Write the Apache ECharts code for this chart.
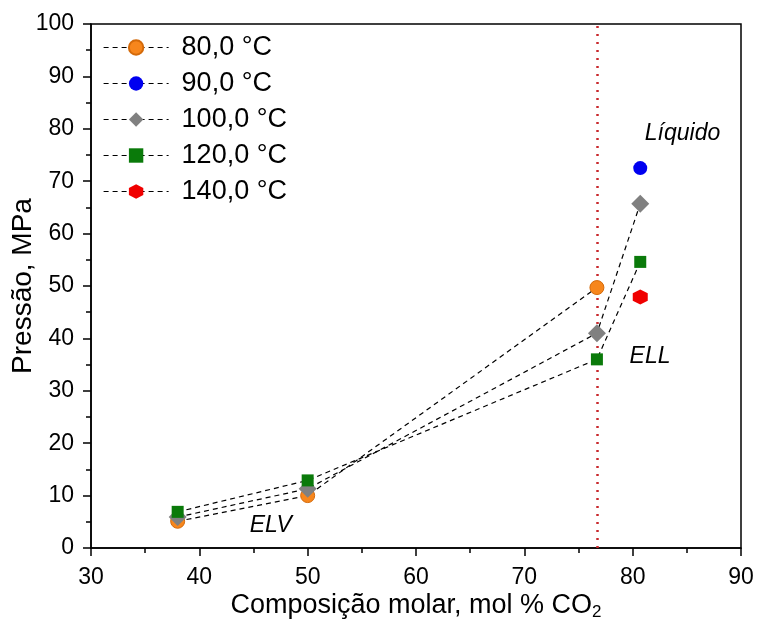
<!DOCTYPE html>
<html>
<head>
<meta charset="utf-8">
<script src="https://cdn.jsdelivr.net/npm/echarts@6/dist/echarts.min.js"></script>
<style>
  html, body { margin: 0; padding: 0; background: #fff; }
  #chart { width: 757px; height: 625px; }
</style>
</head>
<body>
<div id="chart"></div>
<script>
// Pressure vs. CO2 molar composition at several temperatures
const seriesNames = ['80,0 °C', '90,0 °C', '100,0 °C', '120,0 °C', '140,0 °C'];

// [mol % CO2, pressure MPa]
const t80 = [[38.0, 5.1], [50.0, 10.0], [76.7, 49.7]];
const t90 = [[80.7, 72.5]];
const t100 = [[38.0, 5.9], [50.0, 11.3], [76.7, 41.0], [80.7, 65.7]];
const t120 = [[38.0, 6.9], [50.0, 12.9], [76.7, 36.0], [80.7, 54.6]];
const t140 = [[80.7, 47.9]];

// phase-boundary composition (dotted reference line)
const boundaryX = 76.7;

// region labels [x, y, text]
const regionLabels = [[84.6, 79.0, 'Líquido'], [81.6, 36.6, 'ELL'], [46.6, 4.3, 'ELV']];

const xTicks = { min: 30, max: 90, interval: 10 };
const yTicks = { min: 0, max: 100, interval: 10 };

const FONT = '"Liberation Sans", Arial, sans-serif';
const hexagon = 'path://M0,-1 L0.866,-0.5 L0.866,0.5 L0,1 L-0.866,0.5 L-0.866,-0.5 Z';

function lineSeries(name, data, symbol, size, color, border) {
  return {
    name: name,
    type: 'line',
    data: data,
    symbol: symbol,
    symbolSize: size,
    showAllSymbols: true,
    itemStyle: { color: color, borderColor: border || color, borderWidth: border ? 1 : 0, opacity: 1 },
    lineStyle: { color: '#000', width: 1.2, type: [5, 4] },
    z: 3
  };
}

const chart = echarts.init(document.getElementById('chart'), null, { renderer: 'canvas' });

const s80 = lineSeries(seriesNames[0], t80, 'circle', 14, '#F7861C', '#D46A0A');
s80.markLine = {
  silent: true,
  symbol: ['none', 'none'],
  label: { show: false },
  lineStyle: { color: '#C8282D', width: 2.5, type: [2, 6] },
  data: [{ xAxis: boundaryX }],
  z: 2
};

const option = {
  backgroundColor: '#fff',
  animation: false,
  textStyle: { fontFamily: FONT },
  grid: {
    left: 91, right: 16, top: 24, bottom: 77,
    outerBoundsMode: 'none',
    containLabel: false,
    show: true, borderColor: '#000', borderWidth: 1.5, backgroundColor: 'transparent'
  },
  legend: {
    data: seriesNames,
    orient: 'vertical',
    left: 98, top: 29,
    itemWidth: 65, itemHeight: 18, itemGap: 9,
    textStyle: { fontSize: 27, color: '#000', fontFamily: FONT, padding: [0, 0, 0, 8] },
    lineStyle: { color: '#000', width: 1.2, type: [5, 4] }
  },
  xAxis: {
    type: 'value',
    min: xTicks.min, max: xTicks.max, interval: xTicks.interval,
    name: 'Composição molar, mol % CO{sub|2}',
    nameLocation: 'middle', nameGap: 42,
    nameMoveOverlap: false,
    nameTextStyle: {
      fontSize: 27, color: '#000', fontFamily: FONT,
      rich: { sub: { fontSize: 17, verticalAlign: 'bottom', padding: [14, 0, 0, 0], fontFamily: FONT, color: '#000' } }
    },
    axisLine: { lineStyle: { color: '#000', width: 1.5 } },
    axisTick: { length: 8, lineStyle: { color: '#000', width: 1.5 } },
    minorTick: { show: true, splitNumber: 2, length: 5, lineStyle: { color: '#000', width: 1.5 } },
    axisLabel: { fontSize: 23, color: '#000', margin: 18, fontFamily: FONT },
    splitLine: { show: false }
  },
  yAxis: {
    type: 'value',
    min: yTicks.min, max: yTicks.max, interval: yTicks.interval,
    name: 'Pressão, MPa',
    nameLocation: 'middle', nameGap: 54,
    nameMoveOverlap: false,
    nameTextStyle: { fontSize: 28, color: '#000', fontFamily: FONT },
    axisLine: { lineStyle: { color: '#000', width: 1.5 } },
    axisTick: { length: 8, lineStyle: { color: '#000', width: 1.5 } },
    minorTick: { show: true, splitNumber: 2, length: 5, lineStyle: { color: '#000', width: 1.5 } },
    axisLabel: { fontSize: 23, color: '#000', margin: 17, fontFamily: FONT },
    splitLine: { show: false }
  },
  series: [
    s80,
    lineSeries(seriesNames[1], t90, 'circle', 14, '#0000F0'),
    lineSeries(seriesNames[2], t100, 'diamond', 18, '#808080'),
    lineSeries(seriesNames[3], t120, 'rect', 12, '#0A7A0A'),
    lineSeries(seriesNames[4], t140, hexagon, 15, '#F00000'),
    {
      name: 'regions',
      type: 'scatter',
      symbolSize: 0,
      silent: true,
      itemStyle: { opacity: 1 },
      data: regionLabels.map(r => ({ value: [r[0], r[1]], name: r[2] })),
      label: {
        show: true, position: 'inside',
        formatter: p => p.name,
        fontSize: 23, fontStyle: 'italic', color: '#000', fontFamily: FONT
      },
      z: 5
    }
  ]
};

chart.setOption(option);
</script>
</body>
</html>
